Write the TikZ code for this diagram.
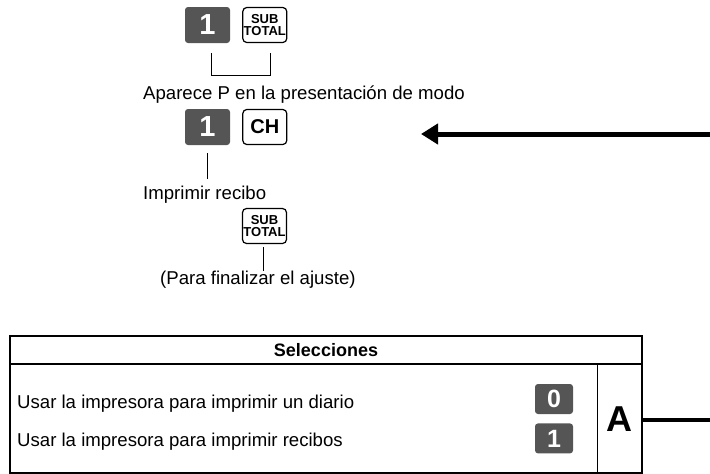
\documentclass[tikz,border=0pt]{standalone}
\usepackage{fontspec}
\setmainfont{Liberation Sans}
\usetikzlibrary{arrows.meta,positioning,calc}
\definecolor{keydark}{HTML}{555555}
\definecolor{ink}{HTML}{000000}

\begin{document}
\begin{tikzpicture}[
  x=1pt, y=1pt,
  numkey/.style={rounded corners=3pt, fill=keydark, text=white, minimum width=45pt,
                 minimum height=36pt, inner sep=0pt, font=\fontsize{29}{29}\selectfont\bfseries},
  fnkey/.style={rounded corners=4pt, draw=ink, line width=1.2pt, fill=white, minimum width=44pt,
                minimum height=35pt, inner sep=0pt, align=center},
  selkey/.style={numkey, minimum width=38pt, minimum height=30pt,
                 font=\fontsize{25}{25}\selectfont\bfseries},
  txt/.style={anchor=base west, inner sep=0pt, font=\fontsize{18.6}{18.6}\selectfont},
  tick/.style={draw=ink, line width=0.9pt},
  ar/.style={-{Triangle[length=17pt,width=20pt]}, line width=5pt, draw=ink},
]
\useasboundingbox (0,0) rectangle (710,-474);
% key sequence
\node[numkey] (one1) at (207.5,-25) {1};
\node[fnkey, right=12pt of one1, font=\fontsize{13}{11.5}\selectfont\bfseries] (sub1) {SUB\\TOTAL};
\node[txt] (mode) at (143,-99) {Aparece P en la presentación de modo};
\node[numkey] (one2) at (207.5,-127) {1};
\node[fnkey, right=12pt of one2, font=\fontsize{20}{20}\selectfont\bfseries] (ch) {CH};
\node[txt] (print) at (143,-199) {Imprimir recibo};
\node[fnkey, font=\fontsize{13}{11.5}\selectfont\bfseries] (sub2) at (264.5,-226) {SUB\\TOTAL};
\node[txt] (fin) at (160,-284) {(Para finalizar el ajuste)};
\draw[tick] ([xshift=4pt,yshift=-10pt]one1.south) |- ([xshift=6pt,yshift=-32pt]sub1.south)
  -- ([xshift=6pt,yshift=-10pt]sub1.south);
\draw[tick] ($(one2.south)+(0,-8pt)$) -- ($(one2.south |- print.north)+(0,6pt)$);
\draw[tick] ($(sub2.south)+(-1.5pt,-3pt)$) -- ($(sub2.south |- fin.north)+(-1.5pt,-1pt)$);
\coordinate (rim) at (710,-134);
\coordinate (pointat) at (421,-134);
\draw[ar] (rim) -- (pointat);
% selections table
\node[draw=ink, line width=1.5pt, minimum width=632pt, minimum height=137pt, inner sep=0pt]
  (tbl) at (326,-404.5) {};
\draw[ink, line width=2pt] ([yshift=-29pt]tbl.north west) -- ([yshift=-29pt]tbl.north east);
\draw[ink, line width=1.2pt] ([xshift=-45pt,yshift=-29pt]tbl.north east) -- ([xshift=-45pt]tbl.south east);
\node[font=\fontsize{18}{18}\selectfont\bfseries] (head) at (326,-350.5) {Selecciones};
\node[txt] (diary) at (17,-408) {Usar la impresora para imprimir un diario};
\node[txt] (receipt) at (17,-446) {Usar la impresora para imprimir recibos};
\node[selkey] (zero) at (554,-399) {0};
\node[selkey, below=9pt of zero] (onesel) {1};
\node[font=\fontsize{36}{36}\selectfont\bfseries] (acell) at (619.5,-419) {A};
\coordinate (rimA) at (710,-420);
\draw[ink, line width=4pt] (tbl.east |- rimA) -- (rimA);
\end{tikzpicture}
\end{document}
